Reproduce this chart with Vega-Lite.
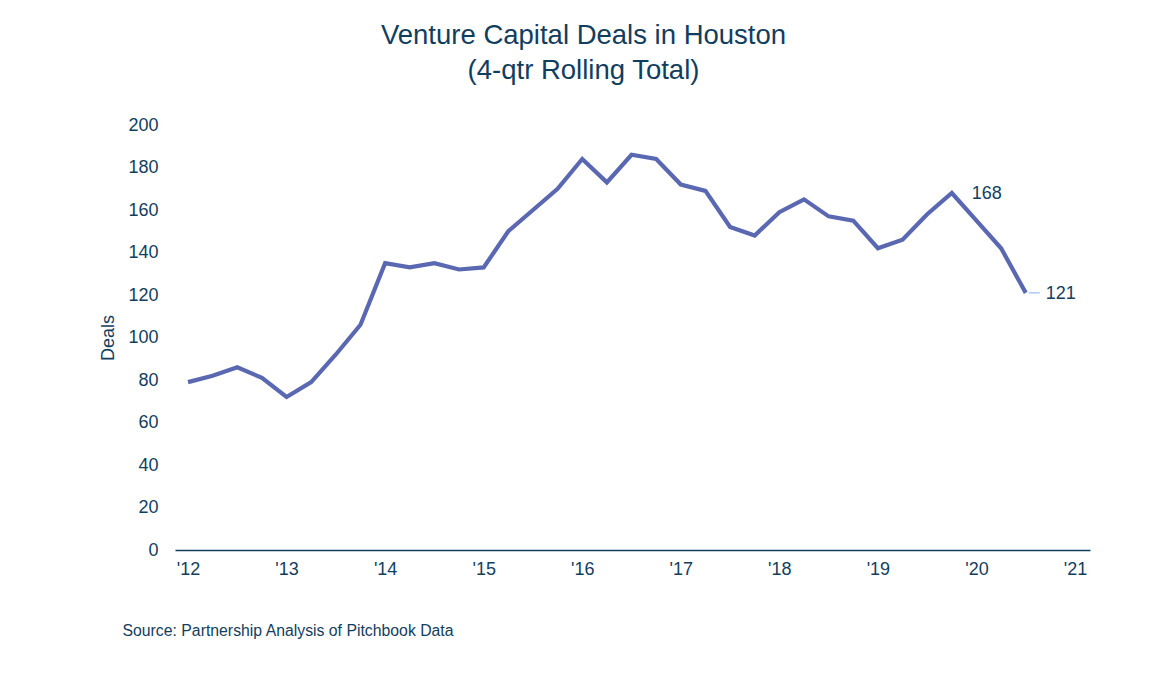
{
  "$schema": "https://vega.github.io/schema/vega-lite/v6.json",
  "autosize": {"type": "none"},
  "width": 915,
  "height": 425,
  "padding": {"left": 175, "top": 125, "right": 76, "bottom": 125},
  "background": "white",
  "config": {"view": {"stroke": null}, "font": "Liberation Sans"},
  "title": {
    "text": ["Venture Capital Deals in Houston", "(4-qtr Rolling Total)"],
    "fontSize": 27.5,
    "fontWeight": "normal",
    "color": "#123e5e",
    "lineHeight": 35,
    "anchor": "middle",
    "dx": -49,
    "offset": 32
  },
  "data": {
    "values": [
      {"t": 2012.0, "deals": 79},
      {"t": 2012.25, "deals": 82},
      {"t": 2012.5, "deals": 86},
      {"t": 2012.75, "deals": 81},
      {"t": 2013.0, "deals": 72},
      {"t": 2013.25, "deals": 79},
      {"t": 2013.5, "deals": 92},
      {"t": 2013.75, "deals": 106},
      {"t": 2014.0, "deals": 135},
      {"t": 2014.25, "deals": 133},
      {"t": 2014.5, "deals": 135},
      {"t": 2014.75, "deals": 132},
      {"t": 2015.0, "deals": 133},
      {"t": 2015.25, "deals": 150},
      {"t": 2015.5, "deals": 160},
      {"t": 2015.75, "deals": 170},
      {"t": 2016.0, "deals": 184},
      {"t": 2016.25, "deals": 173},
      {"t": 2016.5, "deals": 186},
      {"t": 2016.75, "deals": 184},
      {"t": 2017.0, "deals": 172},
      {"t": 2017.25, "deals": 169},
      {"t": 2017.5, "deals": 152},
      {"t": 2017.75, "deals": 148},
      {"t": 2018.0, "deals": 159},
      {"t": 2018.25, "deals": 165},
      {"t": 2018.5, "deals": 157},
      {"t": 2018.75, "deals": 155},
      {"t": 2019.0, "deals": 142},
      {"t": 2019.25, "deals": 146},
      {"t": 2019.5, "deals": 158},
      {"t": 2019.75, "deals": 168, "label": "168"},
      {"t": 2020.0, "deals": 155},
      {"t": 2020.25, "deals": 142},
      {"t": 2020.5, "deals": 121, "label": "121"}
    ]
  },
  "encoding": {
    "x": {
      "field": "t",
      "type": "quantitative",
      "scale": {"domain": [2011.868, 2021.152], "nice": false, "zero": false},
      "axis": {
        "values": [2012, 2013, 2014, 2015, 2016, 2017, 2018, 2019, 2020, 2021],
        "format": "d",
        "labelExpr": "\"'\" + substring(datum.label, 2)",
        "grid": false,
        "ticks": false,
        "domainColor": "#123e5e",
        "domainWidth": 1.5,
        "labelColor": "#123e5e",
        "labelFontSize": 18,
        "labelPadding": 10,
        "labelFlush": false,
        "title": "Source: Partnership Analysis of Pitchbook Data",
        "titleFontSize": 15.8,
        "titleFontWeight": "normal",
        "titleColor": "#123e5e",
        "titleAnchor": "start",
        "titleAlign": "left",
        "titleBaseline": "middle",
        "titleX": -53,
        "titleY": 80
      }
    },
    "y": {
      "field": "deals",
      "type": "quantitative",
      "scale": {"domain": [0, 200], "nice": false},
      "axis": {
        "values": [0, 20, 40, 60, 80, 100, 120, 140, 160, 180, 200],
        "grid": false,
        "ticks": false,
        "domain": false,
        "labelColor": "#123e5e",
        "labelFontSize": 18,
        "labelPadding": 17,
        "title": "Deals",
        "titleFontSize": 18,
        "titleFontWeight": "normal",
        "titleColor": "#123e5e",
        "titlePadding": 10
      }
    }
  },
  "layer": [
    {
      "mark": {"type": "line", "color": "#5a68b2", "strokeWidth": 4.2, "strokeJoin": "miter"}
    },
    {
      "transform": [{"filter": "datum.label == '121'"}],
      "mark": {"type": "rule", "color": "#7fb2e5", "strokeWidth": 1, "xOffset": 3, "x2Offset": 14},
      "encoding": {"x2": {"field": "t"}}
    },
    {
      "transform": [{"filter": "isValid(datum.label)"}],
      "mark": {"type": "text", "align": "left", "baseline": "middle", "dx": 20, "dy": 1, "fontSize": 18, "color": "#123e5e"},
      "encoding": {"text": {"field": "label"}}
    }
  ]
}
